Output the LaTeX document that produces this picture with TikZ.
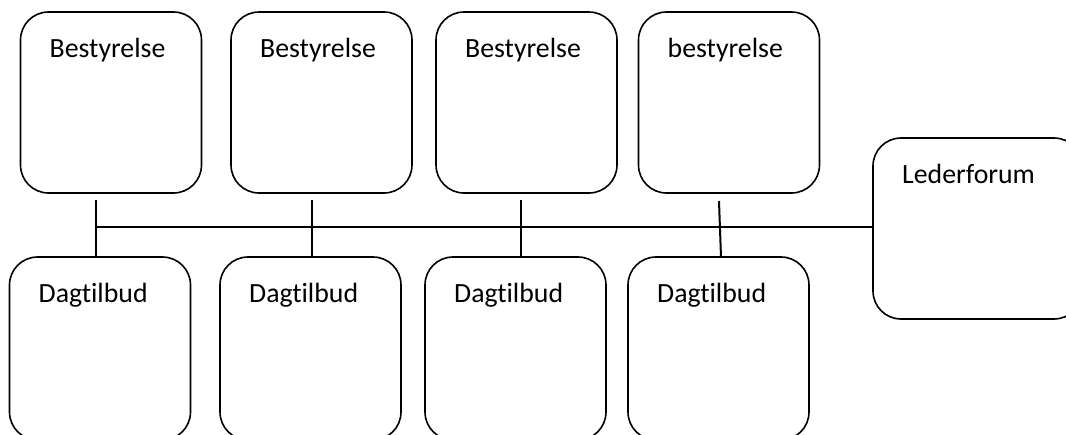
\documentclass[tikz,border=0pt]{standalone}
\usepackage{fontspec}
\setmainfont{Carlito}[Ligatures={NoCommon,NoRare}, Contextuals=NoAlternate]
\begin{document}
\begin{tikzpicture}[x=1pt,y=-1pt,
  box/.style={draw=black, line width=1.6pt, rounded corners=28pt, rectangle, outer sep=0pt, inner sep=0pt},
  topbox/.style={box, minimum width=181pt, minimum height=181pt},
  botbox/.style={box, minimum width=181pt, minimum height=183pt},
  lbl/.style={anchor=base west, inner sep=0pt, xshift=29pt, yshift=-45pt, font=\fontsize{27.8}{33}\selectfont},
  conn/.style={draw=black, line width=2pt}]
\useasboundingbox (0,0) rectangle (1066,434);
\clip (0,0) rectangle (1066,434);
% top row
\node[topbox, label={[lbl]north west:Bestyrelse}] (t1) at (111,102.5) {};
\node[topbox, label={[lbl]north west:Bestyrelse}] (t2) at (321.5,102.5) {};
\node[topbox, label={[lbl]north west:Bestyrelse}] (t3) at (526.5,102.5) {};
\node[topbox, label={[lbl]north west:bestyrelse}] (t4) at (729,102.5) {};
% bottom row
\node[botbox, label={[lbl]north west:Dagtilbud}] (b1) at (100,348.5) {};
\node[botbox, label={[lbl]north west:Dagtilbud}] (b2) at (310.5,348.5) {};
\node[botbox, label={[lbl]north west:Dagtilbud}] (b3) at (515.5,348.5) {};
\node[botbox, label={[lbl]north west:Dagtilbud}] (b4) at (718.5,348.5) {};
% Lederforum
\node[box, minimum width=209pt, minimum height=181pt, label={[lbl]north west:Lederforum}] (L) at (977.5,228.5) {};
% connector points
\coordinate (c1) at (96,200);
\coordinate (c2) at (312,200);
\coordinate (c3) at (521,200);
\coordinate (c4) at (719,201);
\coordinate (h) at (96,227);
\draw[conn] (c1) -- (c1 |- b1.north);
\draw[conn] (c2) -- (c2 |- b2.north);
\draw[conn] (c3) -- (c3 |- b3.north);
\draw[conn] (c4) -- ([xshift=2pt]c4 |- b4.north);
\draw[conn] (h) -- (h -| L.west);
\end{tikzpicture}
\end{document}
